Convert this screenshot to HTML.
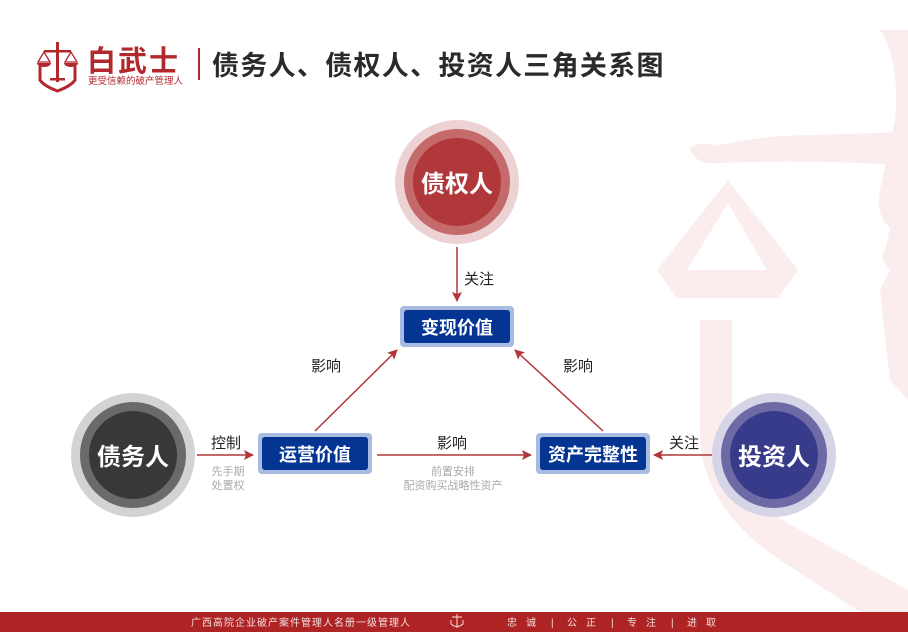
<!DOCTYPE html>
<html><head><meta charset="utf-8"><style>
html,body{margin:0;padding:0;background:#fff;}
body{width:908px;height:642px;overflow:hidden;position:relative;font-family:"Liberation Sans","Noto Sans CJK SC",sans-serif;}
svg{position:absolute;left:0;top:0;}
text{font-family:"Liberation Sans","Noto Sans CJK SC",sans-serif;}
</style></head><body>
<svg width="908" height="642" viewBox="0 0 908 642">
<defs>
<marker id="ar" markerWidth="10" markerHeight="10" refX="9" refY="5" orient="auto" markerUnits="userSpaceOnUse">
<path d="M0,0 L10,5 L0,10 L2,5 Z" fill="#b0363a"/>
</marker>
</defs>
<g fill="#fbeded">
<path d="M728,180 L798,270 L778,298 L677,298 L657,270 Z M728,203 L687,270 L767,270 Z" fill-rule="evenodd"/>
<path d="M690,148 Q700,140 715,146 Q740,140 780,136 L908,132 L908,165 L860,163 Q790,160 720,163 Q695,166 690,148 Z"/>
<path d="M700,320 L732,320 L732,440 Q740,500 800,530 L908,590 L908,612 L860,612 L780,560 Q705,510 700,440 Z"/>
<path d="M880,30 Q900,60 895,120 L880,190 Q875,215 890,228 L885,250 Q878,260 890,270 L880,290 Q885,340 890,380 L908,400 L908,30 Z"/>
</g>
<g fill="#b3282d">
<rect x="56" y="42" width="3" height="40"/>
<rect x="44" y="50" width="27" height="2.5"/>
<rect x="50" y="78" width="15" height="2.5"/>
<path d="M38,62 L44,52 L50,62 Z M65,62 L71,52 L77,62 Z" fill="none" stroke="#b3282d" stroke-width="1.3"/>
<path d="M37,63 h14 a7,4 0 0 1 -14,0 Z M64,63 h14 a7,4 0 0 1 -14,0 Z"/>
<path d="M40,66 L40,80 Q44,86 57.5,91 Q71,86 75,80 L75,66" fill="none" stroke="#b3282d" stroke-width="3"/>
</g>
<text x="87" y="71" font-size="29" font-weight="bold" fill="#b3282d" letter-spacing="2">白武士</text>
<text x="88" y="84" font-size="9.5" fill="#b3282d">更受信赖的破产管理人</text>
<rect x="198" y="48" width="2" height="32" fill="#b3282d"/>
<text x="212" y="75" font-size="27" font-weight="bold" fill="#2a2a2a" letter-spacing="1.3">债务人、债权人、投资人三角关系图</text>
<circle cx="457" cy="182" r="62" fill="#edd2d3"/>
<circle cx="457" cy="182" r="53" fill="#c56a6b"/>
<circle cx="457" cy="182" r="44" fill="#b0383a"/>
<text x="457" y="192" font-size="24" font-weight="bold" fill="#fff" text-anchor="middle">债权人</text>
<circle cx="133" cy="455" r="62" fill="#d3d3d3"/>
<circle cx="133" cy="455" r="53" fill="#6a6a6a"/>
<circle cx="133" cy="455" r="44" fill="#383838"/>
<text x="133" y="465" font-size="24" font-weight="bold" fill="#fff" text-anchor="middle">债务人</text>
<circle cx="774" cy="455" r="62" fill="#d6d5e7"/>
<circle cx="774" cy="455" r="53" fill="#6d6aa6"/>
<circle cx="774" cy="455" r="44" fill="#383a8a"/>
<text x="774" y="465" font-size="24" font-weight="bold" fill="#fff" text-anchor="middle">投资人</text>
<g>
<rect x="400" y="306" width="114" height="41" rx="4" fill="#a9bbe0"/>
<rect x="404" y="310" width="106" height="33" rx="3" fill="#053592"/>
<text x="457" y="334" font-size="18" font-weight="bold" fill="#fff" text-anchor="middle">变现价值</text>
<rect x="258" y="433" width="114" height="41" rx="4" fill="#a9bbe0"/>
<rect x="262" y="437" width="106" height="33" rx="3" fill="#053592"/>
<text x="315" y="461" font-size="18" font-weight="bold" fill="#fff" text-anchor="middle">运营价值</text>
<rect x="536" y="433" width="114" height="41" rx="4" fill="#a9bbe0"/>
<rect x="540" y="437" width="106" height="33" rx="3" fill="#053592"/>
<text x="593" y="461" font-size="18" font-weight="bold" fill="#fff" text-anchor="middle">资产完整性</text>
</g>
<g stroke="#b0363a" stroke-width="1.5" fill="none" marker-end="url(#ar)">
<line x1="457" y1="247" x2="457" y2="301"/>
<line x1="315" y1="431" x2="397" y2="350"/>
<line x1="603" y1="431" x2="515" y2="350"/>
<line x1="197" y1="455" x2="253" y2="455"/>
<line x1="377" y1="455" x2="531" y2="455"/>
<line x1="712" y1="455" x2="654" y2="455"/>
</g>
<g font-size="15" fill="#222">
<text x="464" y="284">关注</text>
<text x="311" y="371">影响</text>
<text x="563" y="371">影响</text>
<text x="211" y="448">控制</text>
<text x="437" y="448">影响</text>
<text x="669" y="448">关注</text>
</g>
<g font-size="11" fill="#aaaaaa" text-anchor="middle">
<text x="228" y="475">先手期</text>
<text x="228" y="489">处置权</text>
<text x="453" y="475">前置安排</text>
<text x="453" y="489">配资购买战略性资产</text>
</g>
<rect x="0" y="612" width="908" height="20" fill="#ae2424"/>
<text x="191" y="626" font-size="10" fill="#f3dede" letter-spacing="1">广西高院企业破产案件管理人名册一级管理人</text>
<g fill="none" stroke="#f3dede" stroke-width="1">
<line x1="457" y1="614" x2="457" y2="628"/>
<line x1="452" y1="617" x2="462" y2="617"/>
<path d="M451,620 v4 q6,5 12,0 v-4"/>
</g>
<g font-size="10" fill="#f3dede">
<text x="507" y="626">忠</text><text x="526" y="626">诚</text>
<text x="551" y="626">|</text>
<text x="567" y="626">公</text><text x="586" y="626">正</text>
<text x="611" y="626">|</text>
<text x="627" y="626">专</text><text x="646" y="626">注</text>
<text x="671" y="626">|</text>
<text x="687" y="626">进</text><text x="706" y="626">取</text>
</g>
</svg>
</body></html>
